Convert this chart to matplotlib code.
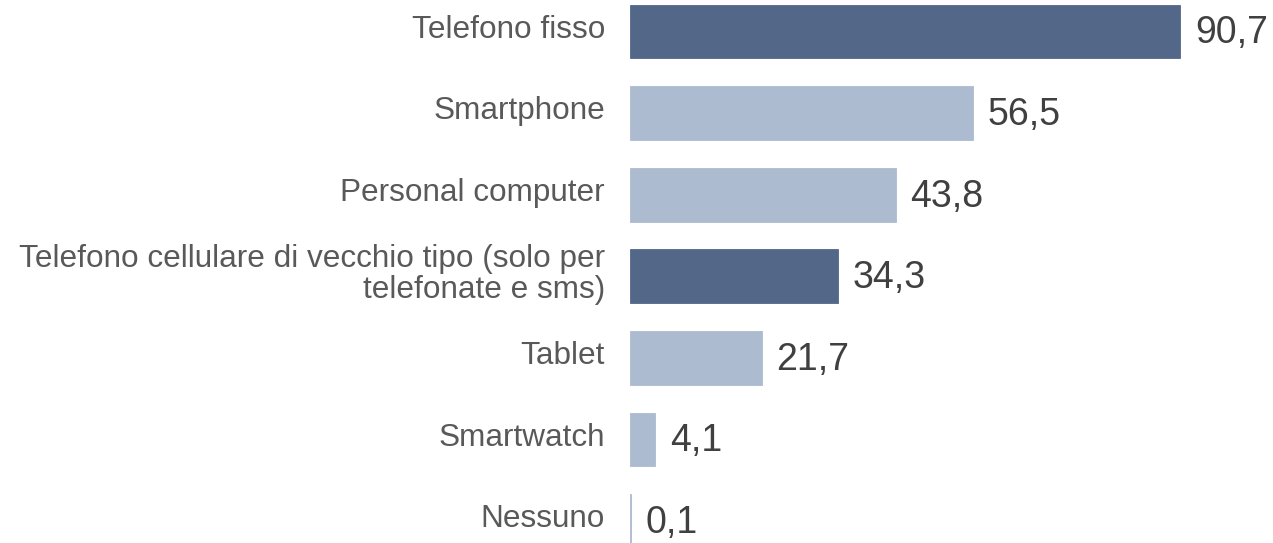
import matplotlib
matplotlib.use("Agg")
import matplotlib.pyplot as plt

categories = ["Telefono fisso", "Smartphone", "Personal computer",
              "Telefono cellulare di vecchio tipo (solo per\ntelefonate e sms)",
              "Tablet", "Smartwatch", "Nessuno"]
values = [90.7, 56.5, 43.8, 34.3, 21.7, 4.1, 0.1]
highlighted = ["Telefono fisso",
               "Telefono cellulare di vecchio tipo (solo per\ntelefonate e sms)"]

DARK = "#536789"
LIGHT = "#adbbd0"

plt.rcParams['font.family'] = ['Liberation Sans', 'DejaVu Sans']

W, H, DPI = 1273, 543, 100
fig = plt.figure(figsize=(W / DPI, H / DPI), dpi=DPI)
left_px = 630
ax = fig.add_axes([left_px / W, 0, 1 - left_px / W, 1])

px_per_unit = 550 / 90.7
ax.set_xlim(0, (W - left_px) / px_per_unit)
spacing = 81.6
top_center = 31.5
ax.set_ylim((H - top_center) / spacing, -top_center / spacing)

ypos = list(range(len(categories)))
colors = [DARK if c in highlighted else LIGHT for c in categories]
ax.barh(ypos, values, height=0.66, color=colors, edgecolor=colors, linewidth=0.6)

for y, c, v in zip(ypos, categories, values):
    ax.annotate(c, xy=(0, y), xycoords=('axes fraction', 'data'),
                xytext=(-25, 2), textcoords='offset pixels',
                ha='right', va='center', fontsize=22.7, color='#595959',
                multialignment='right', linespacing=1.05)
    ax.annotate(f"{v:.1f}".replace('.', ','), xy=(v, y), xycoords='data',
                xytext=(15, -2), textcoords='offset pixels',
                ha='left', va='center', fontsize=27, color='#404040')

ax.axis('off')
fig.savefig("out.png", dpi=DPI)
